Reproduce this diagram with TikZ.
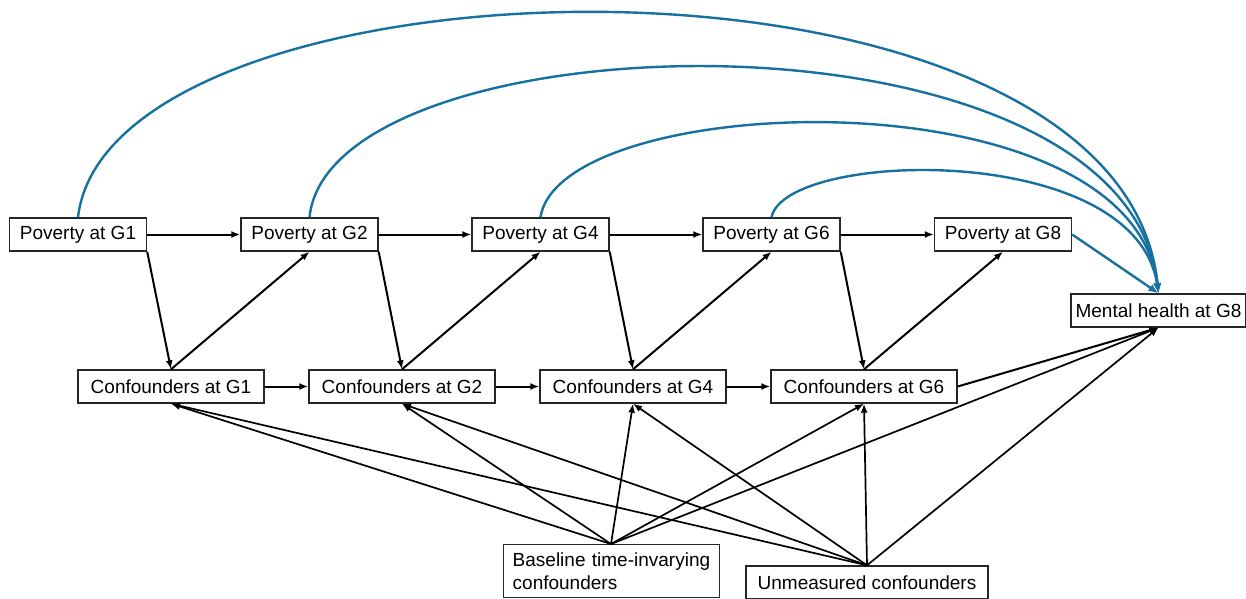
\documentclass[tikz,border=0pt]{standalone}
\usepackage{fontspec}
\setmainfont{Liberation Sans}
\usetikzlibrary{arrows.meta}
\definecolor{pblue}{RGB}{22,112,160}
\tikzset{
  box/.style={draw=black!85, line width=1.4pt, fill=white, inner sep=0pt, minimum height=33pt,
    font=\fontsize{19}{23}\selectfont},
  pbox/.style={box, minimum width=137pt},
  cbox/.style={box, minimum width=186pt},
  arr/.style={line width=2pt, -{Latex[length=9pt,width=7pt]}},
  thin arr/.style={line width=1.7pt, -{Latex[length=9pt,width=7pt]}},
  barr/.style={line width=2.4pt, draw=pblue, -{Latex[length=10pt,width=8pt]}, color=pblue},
}
\begin{document}
\begin{tikzpicture}[x=1pt,y=-1pt]
\useasboundingbox (0,0) rectangle (1246,598);

% nodes
\node[pbox] (P1) at (78,234.5) {Poverty at G1};
\node[pbox] (P2) at (309.5,234.5) {Poverty at G2};
\node[pbox] (P4) at (540.5,234.5) {Poverty at G4};
\node[pbox] (P6) at (771.5,234.5) {Poverty at G6};
\node[pbox] (P8) at (1003,234.5) {Poverty at G8};

\node[cbox] (C1) at (171,386.5) {Confounders at G1};
\node[cbox] (C2) at (402,386.5) {Confounders at G2};
\node[cbox] (C4) at (633,386.5) {Confounders at G4};
\node[cbox] (C6) at (864,386.5) {Confounders at G6};

\node[box, minimum width=175pt] (MH) at (1158.5,310.5) {Mental health at G8};

\node[box, anchor=north west, text width=198pt, inner xsep=9pt, inner ysep=8pt,
      minimum height=0pt, align=left] (B) at (503,544)
      {Baseline time-invarying\\confounders};
\node[box, minimum width=242pt] (U) at (867,582.5) {Unmeasured confounders};

% horizontal arrows
\draw[arr] (P1) -- (P2);
\draw[arr] (P2) -- (P4);
\draw[arr] (P4) -- (P6);
\draw[arr] (P6) -- (P8);
\draw[arr] (C1) -- (C2);
\draw[arr] (C2) -- (C4);
\draw[arr] (C4) -- (C6);

% zigzag
\draw[arr] (P1.south east) -- (C1.north);
\draw[arr] (C1.north) -- (P2.south);
\draw[arr] (P2.south east) -- (C2.north);
\draw[arr] (C2.north) -- (P4.south);
\draw[arr] (P4.south east) -- (C4.north);
\draw[arr] (C4.north) -- (P6.south);
\draw[arr] (P6.south east) -- (C6.north);
\draw[arr] (C6.north) -- (P8.south);

% to mental health
\draw[arr] (C6.east) -- (MH.south);

% baseline and unmeasured
\foreach \t in {C1,C2,C4,C6,MH}{
  \draw[thin arr] (B.north -| 611,0) -- (\t.south);
  \draw[thin arr] (U.north) -- (\t.south);
}

% blue curves
\draw[barr] (P1.north) .. controls (110,-55) and (1120,-80) .. (MH.north);
\draw[barr] (P2.north) .. controls (330,15) and (1125,-5) .. (MH.north);
\draw[barr] (P4.north) .. controls (560,90) and (1130,70) .. (MH.north);
\draw[barr] (P6.north) .. controls (785,150) and (1135,140) .. (MH.north);
\draw[barr] (P8.east) -- (MH.north);
\end{tikzpicture}
\end{document}
